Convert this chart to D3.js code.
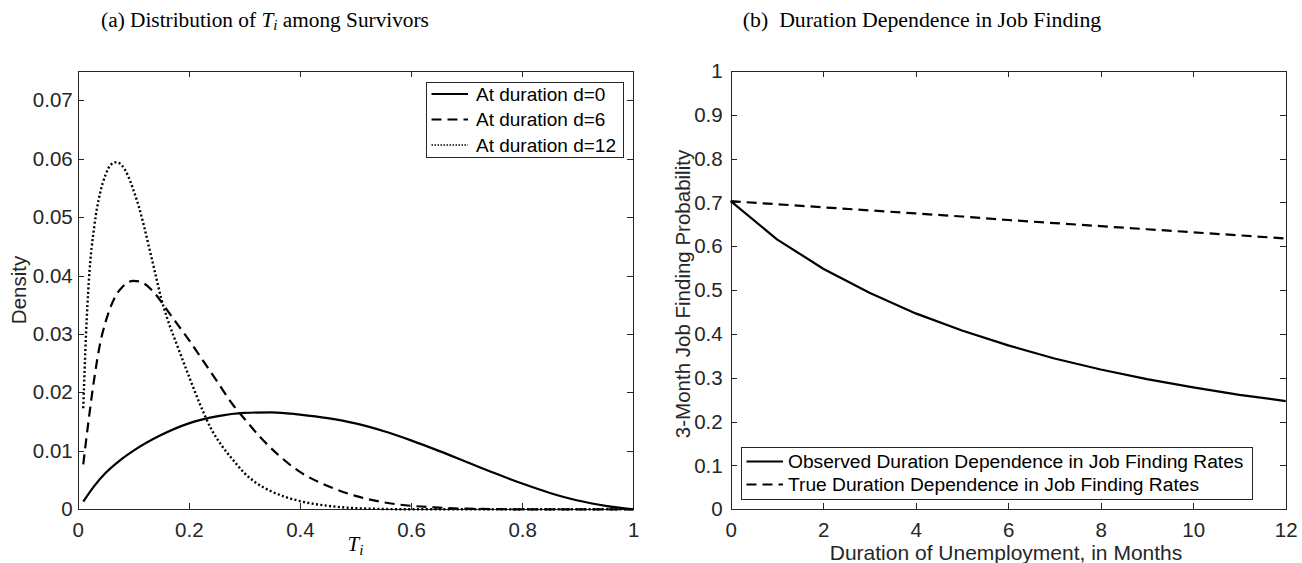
<!DOCTYPE html>
<html><head><meta charset="utf-8">
<script src="https://cdn.jsdelivr.net/npm/d3@7"></script>
<style>body{margin:0;background:#fff} svg{display:block}</style>
</head><body><svg id="c" width="1302" height="563"></svg>
<script>
// ---------- Panel (a) data ----------
const tD0    = [0.01,0.03,0.05,0.075,0.10,0.15,0.20,0.25,0.30,0.35,0.40,0.45,0.50,0.55,0.60,0.65,0.70,0.75,0.80,0.85,0.90,0.95,1.00];
const densD0 = [0.0013,0.0040,0.0062,0.0083,0.0100,0.0127,0.0147,0.0159,0.0165,0.0166,0.0162,0.0156,0.0147,0.0134,0.0118,0.0100,0.0081,0.0062,0.0044,0.0028,0.0015,0.0006,0.0000];

const tD6    = [0.01,0.02,0.03,0.04,0.05,0.06,0.07,0.08,0.09,0.10,0.11,0.12,0.14,0.16,0.18,0.20,0.22,0.25,0.28,0.30,0.33,0.36,0.40,0.45,0.50,0.55,0.60,0.65,0.70,0.80,0.90,1.00];
const densD6 = [0.0077,0.0155,0.0225,0.0282,0.0320,0.0348,0.0368,0.0380,0.0388,0.0391,0.0390,0.0386,0.0368,0.0342,0.0316,0.0290,0.0262,0.0220,0.0178,0.0155,0.0122,0.0094,0.0064,0.0040,0.0023,0.0012,0.0006,0.0003,0.0001,0.0000,0.0000,0.0000];

const tD12    = [0.01,0.015,0.02,0.03,0.04,0.05,0.06,0.07,0.08,0.09,0.10,0.11,0.12,0.13,0.14,0.15,0.16,0.18,0.20,0.22,0.24,0.26,0.28,0.30,0.32,0.35,0.40,0.45,0.50,0.60,0.80,1.00];
const densD12 = [0.0173,0.0300,0.0390,0.0485,0.0540,0.0572,0.0590,0.0594,0.0588,0.0572,0.0547,0.0518,0.0482,0.0442,0.0402,0.0362,0.0330,0.0278,0.0228,0.0180,0.0138,0.0108,0.0084,0.0062,0.0046,0.0030,0.0014,0.0006,0.0002,0.0000,0.0000,0.0000];

const aXTicks = [0,0.2,0.4,0.6,0.8,1];
const aXTickLabels = ["0","0.2","0.4","0.6","0.8","1"];
const aYTicks = [0,0.01,0.02,0.03,0.04,0.05,0.06,0.07];
const aYTickLabels = ["0","0.01","0.02","0.03","0.04","0.05","0.06","0.07"];
const aLegend = ["At duration d=0","At duration d=6","At duration d=12"];

// ---------- Panel (b) data ----------
const months = [0,1,2,3,4,5,6,7,8,9,10,11,12];
const observedRate = [0.703,0.616,0.549,0.494,0.447,0.408,0.374,0.344,0.319,0.297,0.278,0.261,0.247];
const trueRate     = [0.703,0.696,0.689,0.682,0.675,0.668,0.660,0.653,0.646,0.639,0.632,0.625,0.618];
const bXTicks = [0,2,4,6,8,10,12];
const bXTickLabels = ["0","2","4","6","8","10","12"];
const bYTicks = [0,0.1,0.2,0.3,0.4,0.5,0.6,0.7,0.8,0.9,1];
const bYTickLabels = ["0","0.1","0.2","0.3","0.4","0.5","0.6","0.7","0.8","0.9","1"];
const bLegend = ["Observed Duration Dependence in Job Finding Rates","True Duration Dependence in Job Finding Rates"];

const svg = d3.select("#c");
const AX = "#262626";
const SANS = "'Liberation Sans', Arial, sans-serif";
const SERIF = "'Liberation Serif', 'DejaVu Serif', serif";
const FS = 20.5;

function frame(g, x, y, xt, xl, yt, yl, ypad) {
  const [x0,x1] = x.range(), [y0,y1] = y.range();
  const bottom = g.append("g").attr("transform",`translate(0,${y0})`)
    .call(d3.axisBottom(x).tickValues(xt).tickFormat((d,i)=>xl[i]).tickSizeInner(-6).tickSizeOuter(0).tickPadding(13));
  const top = g.append("g").attr("transform",`translate(0,${y1})`)
    .call(d3.axisTop(x).tickValues(xt).tickFormat("").tickSizeInner(-6).tickSizeOuter(0));
  const left = g.append("g").attr("transform",`translate(${x0},0)`)
    .call(d3.axisLeft(y).tickValues(yt).tickFormat((d,i)=>yl[i]).tickSizeInner(-6).tickSizeOuter(0).tickPadding(ypad));
  const right = g.append("g").attr("transform",`translate(${x1},0)`)
    .call(d3.axisRight(y).tickValues(yt).tickFormat("").tickSizeInner(-6).tickSizeOuter(0));
  [bottom,top,left,right].forEach(a=>{
    a.selectAll("path,line").attr("stroke",AX).attr("stroke-width",1).attr("shape-rendering","crispEdges");
    a.selectAll("text").attr("fill",AX).attr("font-family",SANS).attr("font-size",FS);
  });
}

// ---------- Panel (a) ----------
const xa = d3.scaleLinear().domain([0,1]).range([77.7,633.3]);
const ya = d3.scaleLinear().domain([0,0.075]).range([509.3,71]);
const ga = svg.append("g");
frame(ga, xa, ya, aXTicks, aXTickLabels, aYTicks, aYTickLabels, 5);

const lineA = d3.line().x(d=>xa(d[0])).y(d=>ya(d[1])).curve(d3.curveMonotoneX);
const seriesA = [
  {t:tD0, v:densD0, dash:null, w:2.2},
  {t:tD6, v:densD6, dash:"10,6", w:2.2},
  {t:tD12, v:densD12, dash:"2,2.4", w:2.4}
];
seriesA.forEach(s=>{
  ga.append("path").datum(s.t.map((t,i)=>[t,s.v[i]]))
    .attr("d",lineA).attr("fill","none").attr("stroke","#000")
    .attr("stroke-width",s.w).attr("stroke-dasharray",s.dash);
});

// legend (a)
const lga = ga.append("g");
lga.append("rect").attr("x",426).attr("y",82).attr("width",197).attr("height",75)
  .attr("fill","#fff").attr("stroke",AX).attr("stroke-width",1).attr("shape-rendering","crispEdges");
aLegend.forEach((t,i)=>{
  const yy = 94 + i*25.5;
  lga.append("line").attr("x1",431.5).attr("x2",468).attr("y1",yy).attr("y2",yy)
    .attr("stroke","#000").attr("stroke-width", i==2?1.3:2.2)
    .attr("stroke-dasharray", [null,"10,6","1.5,1.5"][i]);
  lga.append("text").attr("x",476).attr("y",yy).attr("dy","0.35em")
    .attr("font-family",SANS).attr("font-size",19).attr("fill","#000").text(t);
});

// labels (a)
svg.append("text").attr("transform","translate(26,290) rotate(-90)").attr("text-anchor","middle")
  .attr("font-family",SANS).attr("font-size",FS).attr("fill",AX).text("Density");
const xlab = svg.append("text").attr("x",355.5).attr("y",551).attr("text-anchor","middle")
  .attr("font-family",SERIF).attr("font-size",21).attr("fill","#000");
xlab.append("tspan").attr("font-style","italic").text("T");
xlab.append("tspan").attr("font-style","italic").attr("font-size",15).attr("dy",4).text("i");

const ta = svg.append("text").attr("x",265).attr("y",27).attr("text-anchor","middle")
  .attr("font-family",SERIF).attr("font-size",21.3).attr("fill","#000");
ta.append("tspan").text("(a) Distribution of ");
ta.append("tspan").attr("font-style","italic").text("T");
ta.append("tspan").attr("font-style","italic").attr("font-size",15).attr("dy",3).text("i");
ta.append("tspan").attr("dy",-3).text(" among Survivors");

// ---------- Panel (b) ----------
const xb = d3.scaleLinear().domain([0,12]).range([730.7,1285.7]);
const yb = d3.scaleLinear().domain([0,1]).range([509.3,71]);
const gb = svg.append("g");
frame(gb, xb, yb, bXTicks, bXTickLabels, bYTicks, bYTickLabels, 8);

const lineB = d3.line().x((d,i)=>xb(months[i])).y(d=>yb(d));
gb.append("path").datum(observedRate).attr("d",lineB).attr("fill","none")
  .attr("stroke","#000").attr("stroke-width",2.2);
gb.append("path").datum(trueRate).attr("d",lineB).attr("fill","none")
  .attr("stroke","#000").attr("stroke-width",2.2).attr("stroke-dasharray","10,6");

const lgb = gb.append("g");
lgb.append("rect").attr("x",741).attr("y",447.5).attr("width",511).attr("height",51.5)
  .attr("fill","#fff").attr("stroke",AX).attr("stroke-width",1).attr("shape-rendering","crispEdges");
bLegend.forEach((t,i)=>{
  const yy = 461.5 + i*23;
  lgb.append("line").attr("x1",746.5).attr("x2",783).attr("y1",yy).attr("y2",yy)
    .attr("stroke","#000").attr("stroke-width",2.2).attr("stroke-dasharray",[null,"10,6"][i]);
  lgb.append("text").attr("x",788).attr("y",yy).attr("dy","0.35em")
    .attr("font-family",SANS).attr("font-size",19.2).attr("fill","#000").text(t);
});

svg.append("text").attr("transform","translate(690,294) rotate(-90)").attr("text-anchor","middle")
  .attr("font-family",SANS).attr("font-size",FS).attr("fill",AX).text("3-Month Job Finding Probability");
svg.append("text").attr("x",1006).attr("y",560).attr("text-anchor","middle")
  .attr("font-family",SANS).attr("font-size",21).attr("fill",AX).text("Duration of Unemployment, in Months");

svg.append("text").attr("x",922).attr("y",27).attr("text-anchor","middle")
  .style("white-space","pre")
  .attr("font-family",SERIF).attr("font-size",21.8).attr("fill","#000").text("(b)  Duration Dependence in Job Finding");
</script></body></html>
